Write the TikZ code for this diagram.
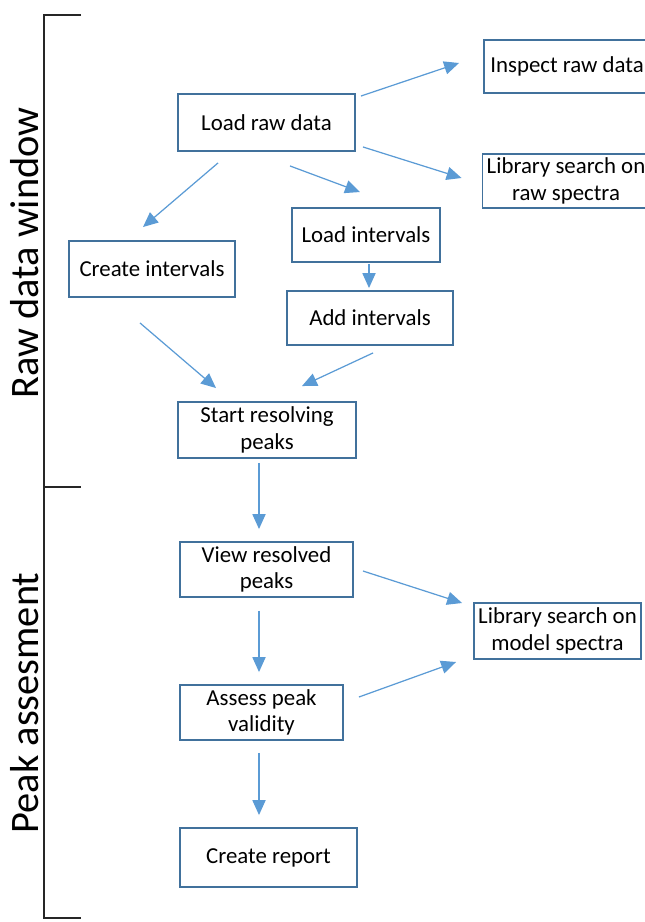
\documentclass[tikz,border=0pt]{standalone}
\usepackage{fontspec}
\setmainfont{Carlito}
\usetikzlibrary{arrows.meta,calc}

\definecolor{boxblue}{HTML}{41719C}
\definecolor{arrowblue}{HTML}{5B9BD5}

\tikzset{
	box/.style={draw=boxblue, line width=1.1pt, align=center, inner sep=1pt, font=\fontsize{13}{15}\selectfont},
	flow/.style={draw=arrowblue, line width=0.7pt, -{Triangle[length=8.5pt,width=7.5pt]}},
	phase/.style={rotate=90, font=\fontsize{23}{26}\selectfont},
}

\begin{document}
\begin{tikzpicture}[x=0.02cm,y=-0.02cm]
	\useasboundingbox (0,0) rectangle (645,922);

	% the two phases
	\draw[line width=0.8pt, black!85] (81,15) -- (44,15) -- (44,918) -- (81,918);
	\draw[line width=0.8pt, black!85] (44,487) -- (81,487);
	\node[phase] (raw) at (25,253) {Raw data window};
	\node[phase] (peak) at (25,703) {Peak assesment};

	% steps
	\node[box, minimum width=3.54cm, minimum height=1.14cm] (load) at (266.5,122.5) {Load raw data};
	\node[box, minimum width=3.32cm, minimum height=1.06cm] (inspect) at (567,66.5) {Inspect raw data};
	\node[box, minimum width=3.34cm, minimum height=1.08cm] (libraw) at (566,181) {Library search on\\raw spectra};
	\node[box, minimum width=3.32cm, minimum height=1.12cm] (create) at (152,269) {Create intervals};
	\node[box, minimum width=2.96cm, minimum height=1.08cm] (loadint) at (366,235) {Load intervals};
	\node[box, minimum width=3.32cm, minimum height=1.08cm] (addint) at (370,318) {Add intervals};
	\node[box, minimum width=3.56cm, minimum height=1.12cm] (start) at (267,430) {Start resolving\\peaks};
	\node[box, minimum width=3.46cm, minimum height=1.10cm] (view) at (266.5,569.5) {View resolved\\peaks};
	\node[box, minimum width=3.34cm, minimum height=1.12cm] (libmodel) at (557.5,631) {Library search on\\model spectra};
	\node[box, minimum width=3.26cm, minimum height=1.10cm] (assess) at (261.5,712.5) {Assess peak\\validity};
	\node[box, minimum width=3.54cm, minimum height=1.18cm] (report) at (268.5,857.5) {Create report};

	% connectors
	\draw[flow] ($(load.north east)+(5,3)$) -- ($(inspect.west)+(-24,-3.5)$);
	\draw[flow] ($(load.south east)+(7,-5)$) -- ($(libraw.west)+(-20,-3)$);
	\draw[flow] ($(load.south)+(-48.5,11)$) -- ($(create.north)+(-9,-13)$);
	\draw[flow] ($(load.south)+(23.5,14)$) -- ($(loadint.north)+(-6,-15)$);
	\draw[flow] ($(loadint.south)+(3,1)$) -- ($(addint.north)+(-1,-2)$);
	\draw[flow] ($(create.south)+(-12,25)$) -- ($(start.north)+(-51,-13)$);
	\draw[flow] ($(addint.south)+(3,7)$) -- ($(start.north)+(35,-15)$);
	\draw[flow] ($(start.south)+(-8,4)$) -- ($(view.north)+(-7.5,-12)$);
	\draw[flow] ($(view.east)+(9,1.5)$) -- ($(libmodel.west)+(-11,-28)$);
	\draw[flow] ($(assess.east)+(15,-15.5)$) -- ($(libmodel.west)+(-17,31)$);
	\draw[flow] ($(view.south)+(-7.5,13)$) -- ($(assess.north)+(-2.5,-12)$);
	\draw[flow] ($(assess.south)+(-2.5,12)$) -- ($(report.north)+(-9.5,-12)$);

\end{tikzpicture}
\end{document}
